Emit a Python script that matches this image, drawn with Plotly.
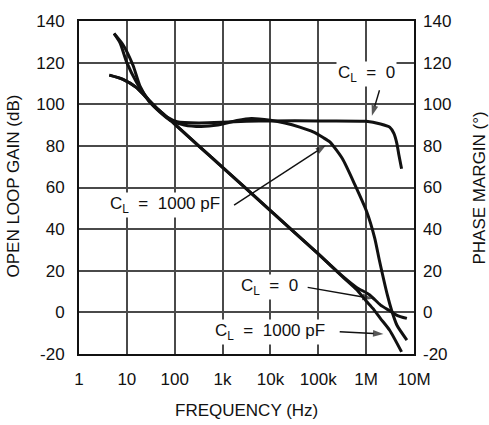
import plotly.graph_objects as go

# Open-loop gain (dB) vs frequency (Hz)
gain_cl0_freq = [4.3, 8.3, 16, 30, 45, 100, 316, 1e3, 1e4, 1e5, 3.16e5, 6.3e5, 1.17e6, 2.0e6, 3.1e6, 4.4e6, 7.1e6]
gain_cl0_db = [114, 112, 108, 101.5, 97.5, 90.5, 80, 69.7, 48.9, 28.1, 17.5, 12, 8.5, 3.5, 0.8, -1.4, -2.9]

gain_cl1000_freq = [4.3, 8.3, 16, 30, 45, 100, 316, 1e3, 1e4, 1e5, 3.16e5, 6.3e5, 1.0e6, 1.38e6, 2.0e6, 3.1e6, 5.5e6]
gain_cl1000_db = [114, 112, 108, 101.5, 97.5, 90.5, 80, 69.7, 48.9, 28.1, 17.3, 11, 5.5, 1.9, -3, -8.6, -19]

# Phase margin (degrees) vs frequency (Hz)
phase_cl0_freq = [5.4, 7.2, 10, 16, 26, 43, 69, 112, 316, 1e3, 3.16e3, 1e4, 1e5, 1e6, 2.0e6, 3.1e6, 3.8e6, 4.4e6, 4.8e6, 5.5e6]
phase_cl0_deg = [134, 129.5, 120, 110.5, 103.3, 97.6, 93.8, 91.6, 91, 91.3, 91.8, 92, 92, 91.8, 90.5, 89, 86, 81, 76, 69]

phase_cl1000_freq = [5.4, 8.3, 13.5, 18.6, 30, 49, 79, 158, 355, 794, 2.0e3, 4.0e3, 1e4, 2.0e4, 4.1e4, 7.8e4, 1.26e5, 1.74e5,
                     3.2e5, 5.8e5, 1.02e6, 1.51e6, 1.9e6, 2.8e6, 3.4e6, 4.4e6, 7.1e6]
phase_cl1000_deg = [134, 128.6, 118.6, 109, 101, 96.2, 92.4, 90, 89.3, 90, 92.2, 93.2, 92.3, 91, 89, 86.7, 84, 81.9,
                    73.8, 61.4, 48.6, 35.7, 24.8, 8, 1, -6.2, -13.3]

x_tick_vals = [1, 10, 100, 1e3, 1e4, 1e5, 1e6, 1e7]
x_tick_text = ["1", "10", "100", "1k", "10k", "100k", "1M", "10M"]
y_tick_vals = [-20, 0, 20, 40, 60, 80, 100, 120, 140]
y_tick_text = ["-20", "0", "20", "40", "60", "80", "100", "120", "140"]

FONT = "Liberation Sans, Arial, Helvetica, sans-serif"
INK = "#111111"

fig = go.Figure()

line_style = dict(color=INK, width=3, shape="spline", smoothing=0.6)
for fx, fy in [(gain_cl0_freq, gain_cl0_db), (gain_cl1000_freq, gain_cl1000_db)]:
    fig.add_trace(go.Scatter(x=fx, y=fy, mode="lines", line=line_style, yaxis="y", showlegend=False,
                             hoverinfo="skip"))
for fx, fy in [(phase_cl0_freq, phase_cl0_deg), (phase_cl1000_freq, phase_cl1000_deg)]:
    fig.add_trace(go.Scatter(x=fx, y=fy, mode="lines", line=line_style, yaxis="y2", showlegend=False,
                             hoverinfo="skip"))

# pointer arrows: tail (Hz, dB) -> tip (Hz, dB)
pointers = [
    ((1.9e6, 106.7), (1.32e6, 94.5)),
    ((1.74e3, 51.5), (1.45e5, 80.3)),
    ((6.0e4, 12.0), (1.38e6, 6.6)),
    ((2.8e5, -9.3), (2.3e6, -10.4)),
]
for (tx, ty), (hx, hy) in pointers:
    fig.add_trace(go.Scatter(
        x=[tx, hx], y=[ty, hy], mode="lines+markers", yaxis="y", showlegend=False, hoverinfo="skip",
        line=dict(color=INK, width=1.4),
        marker=dict(symbol=["circle", "arrow"], size=[0, 11], angleref="previous", color=INK,
                    line=dict(width=0)),
    ))

axis_common = dict(
    showline=True, linecolor=INK, linewidth=2, mirror=True,
    showgrid=True, gridcolor="#4a4a4a", gridwidth=1.5,
    ticks="", zeroline=False,
    tickfont=dict(family=FONT, size=17, color=INK),
)

nb = "\u00a0"
sub_l = "C<sub>L</sub>"
label_cl0 = f"{sub_l}{nb}{nb}={nb}{nb}0"
label_cl1000 = f"{sub_l}{nb}{nb}={nb}{nb}1000{nb}pF"

ann_font = dict(family=FONT, size=17, color=INK)
annotations = []

# text labels (positions in log10(Hz), dB), on white boxes that break the grid
for text, lx, ly in [
    (label_cl0, 6.01, 114.5),
    (label_cl1000, 1.80, 51.5),
    (label_cl0, 3.99, 12.0),
    (label_cl1000, 3.99, -9.5),
]:
    annotations.append(dict(text=text, x=lx, y=ly, xref="x", yref="y", showarrow=False,
                            font=ann_font, xanchor="center", yanchor="middle",
                            bgcolor="white", borderpad=1))

title_font = dict(family=FONT, size=17, color=INK)
annotations += [
    dict(text="OPEN LOOP GAIN (dB)", xref="paper", yref="paper", x=-0.197, y=0.503, textangle=-90,
         showarrow=False, font=title_font, xanchor="center", yanchor="middle"),
    dict(text="PHASE MARGIN (°)", xref="paper", yref="paper", x=1.197, y=0.5, textangle=-90,
         showarrow=False, font=title_font, xanchor="center", yanchor="middle"),
    dict(text="FREQUENCY (Hz)", xref="paper", yref="paper", x=0.499, y=-0.17,
         showarrow=False, font=title_font, xanchor="center", yanchor="middle"),
]

fig.update_layout(
    width=489, height=425, autosize=False,
    margin=dict(l=79, r=75, t=18, b=71),
    paper_bgcolor="white", plot_bgcolor="white",
    xaxis=dict(type="log", range=[0, 7], tickvals=x_tick_vals, ticktext=x_tick_text,
               ticklabelstandoff=9, **axis_common),
    yaxis=dict(range=[-20, 140], tickvals=y_tick_vals, ticktext=y_tick_text,
               ticklabelstandoff=9, **axis_common),
    yaxis2=dict(range=[-20, 140], tickvals=y_tick_vals, ticktext=y_tick_text, overlaying="y", side="right",
                ticklabelstandoff=8, showline=False, showgrid=False, ticks="", zeroline=False,
                tickfont=dict(family=FONT, size=17, color=INK)),
    annotations=annotations,
    showlegend=False,
)

fig.write_html("out.html")
